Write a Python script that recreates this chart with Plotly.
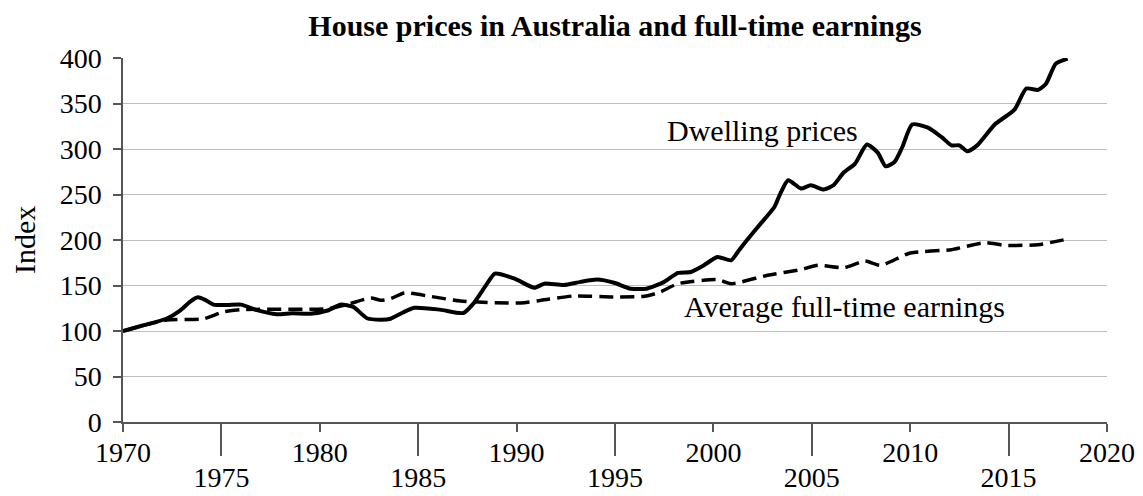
import plotly.graph_objects as go

# Data
dwelling_years = [1970.0, 1971.0, 1972.2, 1972.9, 1973.4, 1973.8, 1974.2, 1974.6, 1975.3, 1976.0,
                  1976.8, 1977.8, 1978.6, 1979.5, 1980.4, 1981.05, 1981.7, 1982.4, 1983.1, 1983.6,
                  1984.2, 1984.8, 1986.1, 1987.3, 1987.8, 1988.5, 1988.9, 1989.9, 1990.9, 1991.4,
                  1992.4, 1993.25, 1994.1, 1994.95, 1995.8, 1996.6, 1997.5, 1998.2, 1998.85, 1999.5,
                  2000.2, 2000.9, 2001.3, 2001.7, 2002.4, 2003.1, 2003.4, 2003.8, 2004.45, 2004.95,
                  2005.6, 2006.1, 2006.6, 2007.2, 2007.8, 2008.35, 2008.75, 2009.2, 2009.6, 2010.1,
                  2010.9, 2011.6, 2012.1, 2012.5, 2012.9, 2013.4, 2014.3, 2015.3, 2015.9, 2016.5,
                  2016.9, 2017.4, 2018.0]
dwelling_values = [100, 106, 113.5, 122.5, 132, 137, 134, 129, 128.5, 129,
                   123, 118.5, 119.5, 119, 122.5, 129, 126.5, 114, 112.5, 113.5,
                   120, 125.5, 123.5, 119.8, 130, 152, 163, 157.5, 147.5, 152,
                   150.5, 154, 156.5, 153, 146.5, 146.5, 154, 163.8, 164.8, 172,
                   181.3, 177.7, 188.7, 199.7, 218, 236.3, 251, 265.6, 256.5, 260.2,
                   255.4, 260.2, 273.6, 284, 305, 296, 281, 285.7, 302.2, 327,
                   323.5, 313, 304, 304, 297.5, 304, 327, 343.3, 366.4, 365,
                   371.8, 393.8, 399.3]

earn_years = [1970.0, 1972.2, 1974.1, 1975.1, 1976.0, 1980.4, 1981.4, 1982.6, 1983.1, 1983.6,
              1984.3, 1985.6, 1987.15, 1990.2, 1991.6, 1992.9, 1994.95, 1996.5, 1997.3, 1998.2,
              2000.2, 2000.9, 2002.75, 2004.45, 2005.3, 2006.65, 2007.7, 2008.5, 2010.0, 2012.1,
              2013.8, 2014.8, 2016.5, 2018.1]
earn_values = [100, 112, 113.5, 121, 123.5, 124.5, 129.3, 136.3, 133.7, 135.6,
               141.8, 138.1, 133, 130.8, 134.8, 138.5, 137.4, 138.1, 142.9, 152,
               156.5, 152, 161.2, 167.5, 172.2, 169.7, 176.9, 172.2, 185.7, 189.4,
               197.1, 194.2, 194.9, 201.5]

major_ticks = [1970, 1980, 1990, 2000, 2010, 2020]
minor_ticks = [1975, 1985, 1995, 2005, 2015]
y_ticks = [0, 50, 100, 150, 200, 250, 300, 350, 400]

FONT = "Liberation Serif, Times New Roman, serif"
AXC = "#555555"

fig = go.Figure()
fig.add_trace(go.Scatter(x=dwelling_years, y=dwelling_values, mode="lines",
                         line=dict(color="black", width=4, shape="spline", smoothing=0.6),
                         showlegend=False, hoverinfo="skip"))
fig.add_trace(go.Scatter(x=earn_years, y=earn_values, mode="lines",
                         line=dict(color="black", width=3.5, dash="14px,7px", shape="spline", smoothing=0.6),
                         showlegend=False, hoverinfo="skip"))
# helper trace to anchor the second (staggered-label) x axis
fig.add_trace(go.Scatter(x=[1970, 2020], y=[None, None], xaxis="x2", mode="lines",
                         showlegend=False, hoverinfo="skip"))

# The page body has an 8px margin, so the figure is sized to fit inside the window.
fig.update_layout(
    width=1135, height=488,
    margin=dict(l=115, r=36, t=50, b=74, autoexpand=False),
    paper_bgcolor="white", plot_bgcolor="white",
    font=dict(family=FONT, size=27, color="black"),
    title=dict(text="<b>House prices in Australia and full-time earnings</b>",
               font=dict(family=FONT, size=30, color="black"),
               x=0.5, xref="paper", xanchor="center",
               y=1 - 17 / 488, yref="container", yanchor="middle"),
    xaxis=dict(range=[1970, 2020], tickvals=major_ticks, ticktext=[str(v) for v in major_ticks],
               ticks="outside", ticklen=8, tickwidth=1.5, tickcolor=AXC, automargin=False,
               showline=True, linecolor=AXC, linewidth=1.5, showgrid=False, zeroline=False,
               tickfont=dict(family=FONT, size=28), ticklabelstandoff=-3),
    xaxis2=dict(range=[1970, 2020], overlaying="x", anchor="y", side="bottom",
                tickvals=minor_ticks, ticktext=[str(v) for v in minor_ticks], automargin=False,
                ticks="outside", ticklen=33, tickwidth=1.5, tickcolor=AXC,
                showline=False, showgrid=False, zeroline=False,
                tickfont=dict(family=FONT, size=28), ticklabelstandoff=-3),
    yaxis=dict(range=[0, 400], tickvals=y_ticks, ticks="outside", ticklen=8, tickwidth=1.5,
               tickcolor=AXC, showline=True, linecolor=AXC, linewidth=1.5, automargin=False,
               showgrid=True, gridcolor="#bdbdbd", gridwidth=1.3, zeroline=False,
               tickfont=dict(family=FONT, size=28), ticklabelstandoff=6),
    annotations=[
        dict(text="Index", xref="paper", yref="paper", x=0, y=0.5, xshift=-99,
             textangle=-90, showarrow=False, font=dict(family=FONT, size=30),
             xanchor="center", yanchor="middle"),
        dict(text="Dwelling prices", x=2002.5, y=320.5, xref="x", yref="y", showarrow=False,
             font=dict(family=FONT, size=30), xanchor="center", yanchor="middle",
             bgcolor="white"),
        dict(text="Average full-time earnings", x=2006.66, y=127, xref="x", yref="y",
             showarrow=False, font=dict(family=FONT, size=30), xanchor="center",
             yanchor="middle", bgcolor="white"),
    ],
)

fig.write_html("out.html")
